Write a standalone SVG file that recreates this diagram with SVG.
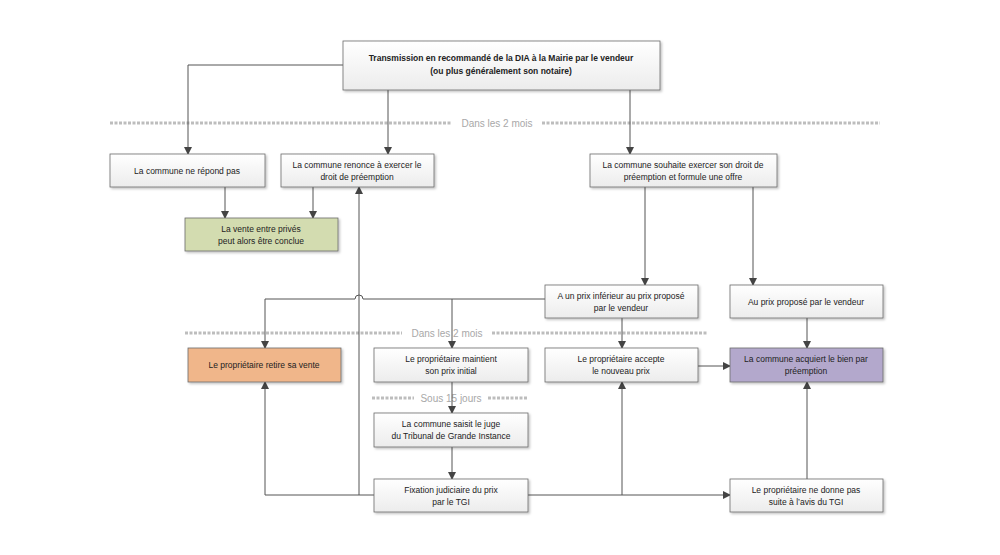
<svg xmlns="http://www.w3.org/2000/svg" width="1000" height="555" viewBox="0 0 1000 555">
<style>
.b{stroke:#6b6b6b;stroke-width:0.8;filter:url(#sh)}
.w{fill:url(#g)}
text{font-family:"Liberation Sans",Arial,sans-serif;font-size:8.5px;fill:#222;text-anchor:middle}
.t{font-weight:bold}
.c{fill:none;stroke:#555;stroke-width:1;marker-end:url(#a)}
.n{fill:none;stroke:#555;stroke-width:1}
.d{stroke:#bdbdbd;stroke-width:3;stroke-dasharray:3 1.5}
.dl{fill:#a8a8a8;font-size:10px}
</style>
<defs>
<linearGradient id="g" x1="0" y1="0" x2="0" y2="1"><stop offset="0" stop-color="#ffffff"/><stop offset="1" stop-color="#ececec"/></linearGradient>
<filter id="sh" x="-5%" y="-10%" width="115%" height="130%"><feDropShadow dx="1.5" dy="1.5" stdDeviation="1" flood-color="#000" flood-opacity="0.25"/></filter>
<marker id="a" markerWidth="8" markerHeight="8" refX="7" refY="4" orient="auto" markerUnits="userSpaceOnUse"><path d="M0,0 L8,4 L0,8 z" fill="#444"/></marker>
</defs>
<g id="separators">
<line class="d" x1="110" y1="123" x2="452" y2="123"/><line class="d" x1="542" y1="123" x2="880" y2="123"/>
<text class="dl" x="497" y="127">Dans les 2 mois</text>
<line class="d" x1="185" y1="333" x2="402" y2="333"/><line class="d" x1="492" y1="333" x2="707" y2="333"/>
<text class="dl" x="447" y="337">Dans les 2 mois</text>
<line class="d" x1="372" y1="398" x2="414" y2="398"/><line class="d" x1="488" y1="398" x2="528" y2="398"/>
<text class="dl" x="451" y="402">Sous 15 jours</text>
</g>
<g id="connectors">
<path class="c" d="M343,65 H188 V154"/>
<path class="c" d="M388,90 V154"/>
<path class="c" d="M630,90 V154"/>
<path class="c" d="M225,187 V218"/>
<path class="c" d="M313,187 V218"/>
<path class="c" d="M645,187 V285"/>
<path class="c" d="M753,187 V285"/>
<path class="c" d="M545,299 H363 A4,4 0 0 0 355,299 H265 V348"/>
<path class="c" d="M452,299 V348"/>
<path class="c" d="M359,495 V187"/>
<path class="c" d="M374,495 H265 V382"/>
<path class="c" d="M622,318 V348"/>
<path class="c" d="M698,366 H730"/>
<path class="c" d="M807,318 V348"/>
<path class="c" d="M452,382 V413"/>
<path class="c" d="M452,447 V479"/>
<path class="c" d="M528,495 H622 V382"/>
<path class="c" d="M622,495 H730"/>
<path class="c" d="M807,479 V382"/>
</g>
<g id="n1"><rect class="b w" x="343" y="41" width="317" height="49"/><text class="t" x="501" y="61">Transmission en recommandé de la DIA à la Mairie par le vendeur</text><text class="t" x="501" y="74">(ou plus généralement son notaire)</text></g>
<g id="n2"><rect class="b w" x="110" y="154" width="155" height="33"/><text x="187" y="174">La commune ne répond pas</text></g>
<g id="n3"><rect class="b w" x="281" y="154" width="153" height="33"/><text x="357" y="168">La commune renonce à exercer le</text><text x="357" y="180">droit de préemption</text></g>
<g id="n4"><rect class="b w" x="590" y="154" width="187" height="33"/><text x="683" y="168">La commune souhaite exercer son droit de</text><text x="683" y="180">préemption et formule une offre</text></g>
<g id="n5"><rect class="b" fill="#d3dcb0" x="185" y="218" width="153" height="33"/><text x="261" y="232">La vente entre privés</text><text x="261" y="244">peut alors être conclue</text></g>
<g id="n6"><rect class="b w" x="545" y="285" width="153" height="33"/><text x="621" y="299">A un prix inférieur au prix proposé</text><text x="621" y="311">par le vendeur</text></g>
<g id="n7"><rect class="b w" x="730" y="285" width="153" height="33"/><text x="806" y="305">Au prix proposé par le vendeur</text></g>
<g id="n8"><rect class="b" fill="#f0b68a" x="188" y="348" width="153" height="34"/><text x="264" y="368">Le propriétaire retire sa vente</text></g>
<g id="n9"><rect class="b w" x="374" y="348" width="154" height="34"/><text x="451" y="362">Le propriétaire maintient</text><text x="451" y="374">son prix initial</text></g>
<g id="n10"><rect class="b w" x="545" y="348" width="153" height="34"/><text x="621" y="362">Le propriétaire accepte</text><text x="621" y="374">le nouveau prix</text></g>
<g id="n11"><rect class="b" fill="#b3a8cc" x="730" y="348" width="153" height="34"/><text x="806" y="362">La commune acquiert le bien par</text><text x="806" y="374">préemption</text></g>
<g id="n12"><rect class="b w" x="374" y="413" width="154" height="34"/><text x="451" y="427">La commune saisit le juge</text><text x="451" y="439">du Tribunal de Grande Instance</text></g>
<g id="n13"><rect class="b w" x="374" y="479" width="154" height="33"/><text x="451" y="493">Fixation judiciaire du prix</text><text x="451" y="505">par le TGI</text></g>
<g id="n14"><rect class="b w" x="730" y="479" width="153" height="33"/><text x="806" y="493">Le propriétaire ne donne pas</text><text x="806" y="505">suite à l’avis du TGI</text></g>
</svg>
